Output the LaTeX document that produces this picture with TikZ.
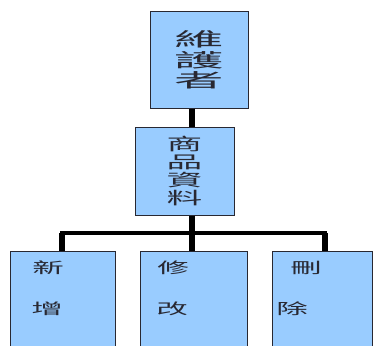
\documentclass[tikz,border=0pt]{standalone}
\usepackage{graphicx}
\usepackage{fontspec}
\newfontfamily\cjk{Noto Sans CJK TC}
\newcommand{\sx}[1]{\scalebox{2.1}[1]{#1}}
\newcommand{\sxt}[1]{\scalebox{2.6}[1]{#1}}
\definecolor{boxblue}{RGB}{153,204,255}
\definecolor{edge}{RGB}{40,40,50}
\tikzset{
  box/.style={draw=edge, line width=1pt, fill=boxblue, inner sep=0pt},
  conn/.style={draw=black, line width=6pt},
  bar/.style={draw=black, line width=4pt},
  lbl/.style={inner sep=0pt, text=edge, font=\cjk\fontsize{15}{15}\selectfont}
}
\begin{document}
\begin{tikzpicture}[x=1pt,y=-1pt]
\useasboundingbox (0,0) rectangle (377,345);
\fill[white] (0,0) rectangle (377,345);
\begin{scope}
\clip (0,0) rectangle (377,345);
\node[box, minimum width=98pt, minimum height=96pt, align=center,
      font=\cjk\fontsize{19}{20.5}\selectfont, text=edge] (top) at (199,60)
      {\sxt{維}\\\sxt{護}\\\sxt{者}};
\node[box, minimum width=99pt, minimum height=88pt, align=center,
      font=\cjk\fontsize{17}{17.8}\selectfont, text=edge] (mid) at (184.5,171)
      {\sx{商}\\\sx{品}\\\sx{資}\\\sx{料}};
\node[box, minimum width=105pt, minimum height=110pt] (b1) at (62.5,306) {};
\node[box, minimum width=107pt, minimum height=110pt] (b2) at (193.5,306) {};
\node[box, minimum width=100pt, minimum height=110pt] (b3) at (322,306) {};
\coordinate (sp) at (192,233);
\coordinate (jl) at (62,233);
\coordinate (jr) at (325,233);
\draw[conn] (sp |- top.south) -- (sp |- mid.north);
\draw[conn] (sp |- mid.south) -- (sp);
\draw[bar] ([xshift=-2pt]jl) -- ([xshift=2pt]jr);
\draw[conn] (jl) -- (jl |- b1.north);
\draw[conn] (sp) -- (sp |- b2.north);
\draw[conn] (jr) -- (jr |- b3.north);
\node[lbl] (t1) at (48,268) {\sx{新}};
\node[lbl] (t2) at (47,309) {\sx{增}};
\node[lbl] (t3) at (173,268) {\sx{修}};
\node[lbl] (t4) at (172,309) {\sx{改}};
\node[lbl] (t5) at (306,268) {\sx{刪}};
\node[lbl] (t6) at (292,309) {\sx{除}};
\end{scope}
\end{tikzpicture}
\end{document}
